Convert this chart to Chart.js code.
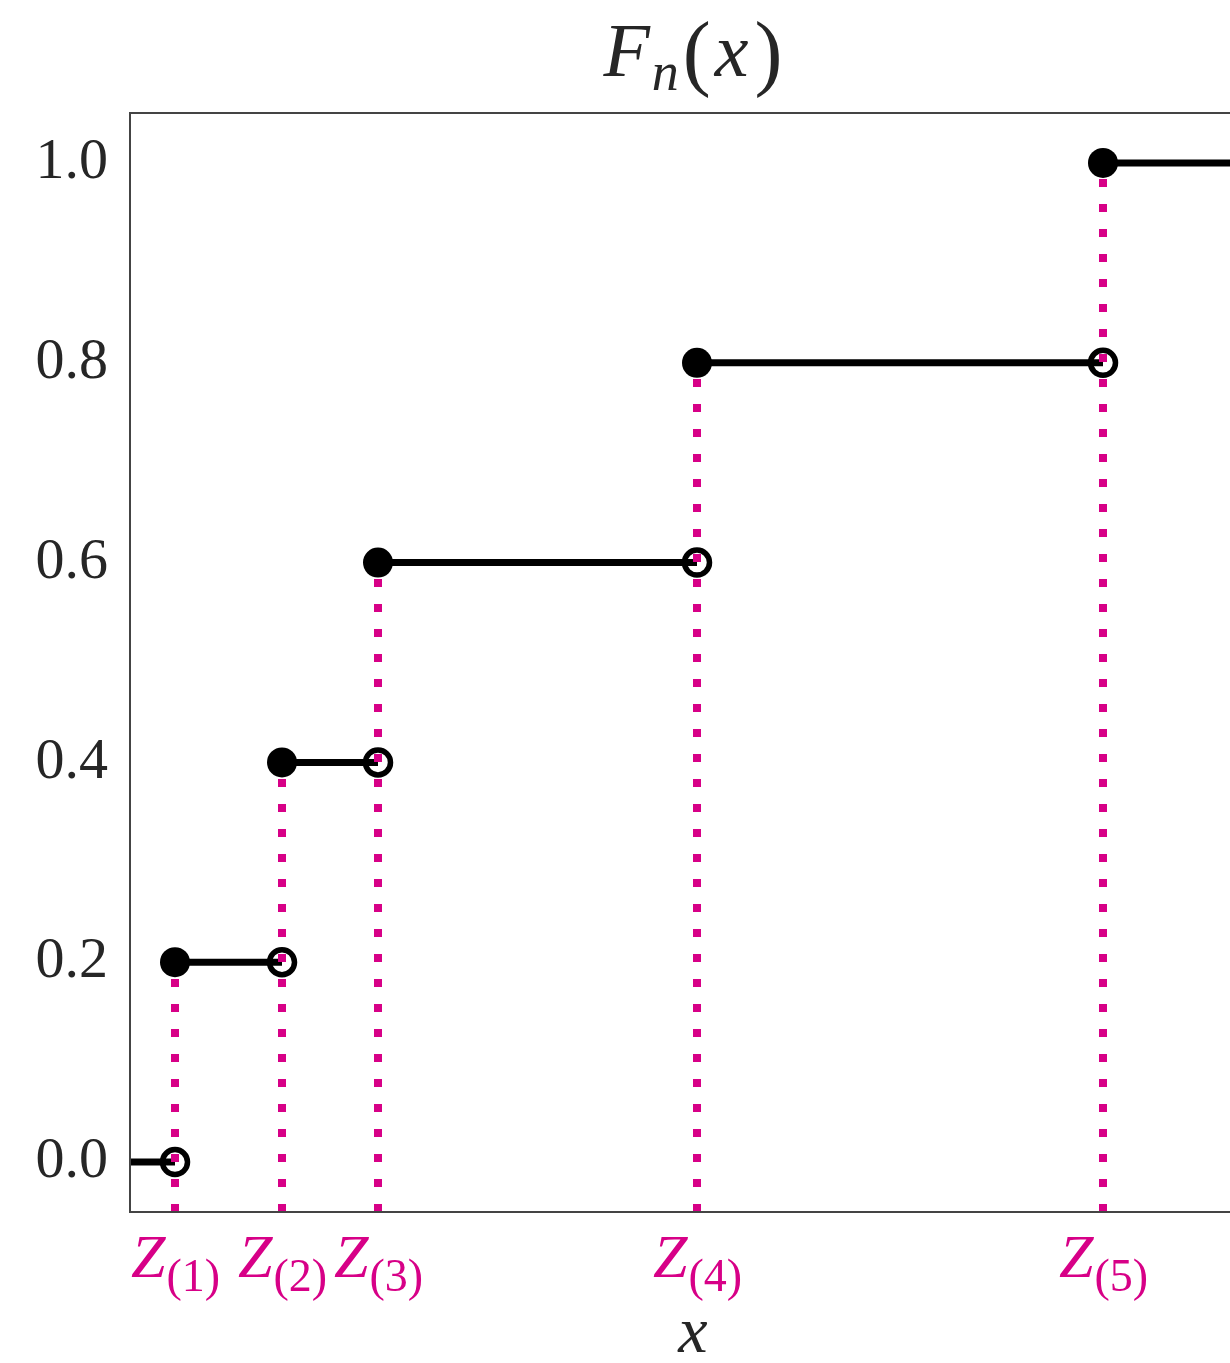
<!DOCTYPE html>
<html>
<head>
<meta charset="utf-8">
<script src="https://cdn.jsdelivr.net/npm/chart.js@4.4.1/dist/chart.umd.min.js"></script>
<style>
  html, body { margin: 0; padding: 0; background: #fff; overflow: hidden; }
  #wrap { width: 1290px; height: 1363px; }
</style>
</head>
<body>
<div id="wrap"><canvas id="ecdf" width="1290" height="1363"></canvas></div>
<script>
// order statistics Z_(1)..Z_(5) and the value of F_n reached at each one
const zValues = [0.45, 1.52, 2.48, 5.67, 9.73];
const fnValues = [0.2, 0.4, 0.6, 0.8, 1.0];
const zLabels = ['1', '2', '3', '4', '5'];
const yTicks = [0.0, 0.2, 0.4, 0.6, 0.8, 1.0];
const xMin = 0, xMax = 11.26;
const yMin = -0.05, yMax = 1.05;

const PINK = '#d70087';
const SERIF = '"Liberation Serif", "DejaVu Serif", serif';

// horizontal steps, broken with nulls
const steps = [{ x: xMin, y: 0 }, { x: zValues[0], y: 0 }, { x: zValues[0], y: null }];
zValues.forEach((z, i) => {
  const next = i + 1 < zValues.length ? zValues[i + 1] : xMax;
  steps.push({ x: z, y: fnValues[i] }, { x: next, y: fnValues[i] }, { x: next, y: null });
});

// dotted drops from the axis up to each jump
const drops = [];
zValues.forEach((z, i) => {
  drops.push({ x: z, y: yMin }, { x: z, y: fnValues[i] }, { x: z, y: null });
});

const filled = zValues.map((z, i) => ({ x: z, y: fnValues[i] }));
const open = zValues.map((z, i) => ({ x: z, y: i === 0 ? 0 : fnValues[i - 1] }));

const decor = {
  id: 'decor',
  afterDraw(chart) {
    const { ctx, chartArea: a, scales } = chart;
    ctx.save();
    // frame
    ctx.strokeStyle = '#444';
    ctx.lineWidth = 2;
    ctx.strokeRect(a.left, a.top, a.right - a.left, a.bottom - a.top);

    const cx = (a.left + a.right) / 2;

    // title F_n(x)
    ctx.fillStyle = '#262626';
    ctx.textBaseline = 'alphabetic';
    ctx.textAlign = 'left';
    const parts = [
      { t: 'F', f: 'italic 76px ' + SERIF, dy: 0, gap: 2 },
      { t: 'n', f: 'italic 54px ' + SERIF, dy: 14, gap: 4 },
      { t: '(', f: '84px ' + SERIF, dy: 4, gap: 4 },
      { t: 'x', f: 'italic 76px ' + SERIF, dy: 0, gap: 6 },
      { t: ')', f: '84px ' + SERIF, dy: 4, gap: 0 }
    ];
    let w = 0;
    parts.forEach(p => { ctx.font = p.f; p.w = ctx.measureText(p.t).width; w += p.w + p.gap; });
    let px = cx - w / 2;
    parts.forEach(p => { ctx.font = p.f; ctx.fillText(p.t, px, 76 + p.dy); px += p.w + p.gap; });

    // x tick labels Z_(i)
    ctx.fillStyle = PINK;
    zValues.forEach((z, i) => {
      const x = scales.x.getPixelForValue(z);
      ctx.font = 'italic 62px ' + SERIF;
      const zw = ctx.measureText('Z').width;
      ctx.font = '46px ' + SERIF;
      const sw = ctx.measureText('(' + zLabels[i] + ')').width;
      let sx = x - (zw + sw) / 2;
      ctx.font = 'italic 62px ' + SERIF;
      ctx.fillText('Z', sx, 1277);
      ctx.font = '46px ' + SERIF;
      ctx.fillText('(' + zLabels[i] + ')', sx + zw + 1, 1291);
    });

    // x axis label
    ctx.fillStyle = '#262626';
    ctx.font = 'italic 66px ' + SERIF;
    ctx.textAlign = 'center';
    ctx.fillText('x', cx, 1352);
    ctx.restore();
  }
};

new Chart(document.getElementById('ecdf'), {
  type: 'line',
  data: {
    datasets: [
      {
        data: filled, showLine: false, order: 0,
        pointRadius: 15, pointBackgroundColor: '#000', pointBorderColor: '#000', pointBorderWidth: 0
      },
      {
        data: open, showLine: false, order: 1,
        pointRadius: 12.5, pointBackgroundColor: 'rgba(0,0,0,0)', pointBorderColor: '#000', pointBorderWidth: 5.5
      },
      {
        data: drops, order: 2, spanGaps: false, pointRadius: 0,
        borderColor: PINK, borderWidth: 8, borderDash: [8, 17], borderCapStyle: 'butt'
      },
      {
        data: steps, order: 3, spanGaps: false, pointRadius: 0,
        borderColor: '#000', borderWidth: 7, borderCapStyle: 'butt'
      }
    ]
  },
  options: {
    responsive: false,
    animation: false,
    clip: false,
    layout: { padding: { top: 113, right: 34, bottom: 0, left: 0 } },
    plugins: { legend: { display: false }, tooltip: { enabled: false } },
    scales: {
      x: {
        type: 'linear', min: xMin, max: xMax,
        grid: { display: false, drawTicks: false },
        border: { display: false },
        ticks: { display: false },
        afterFit(s) { s.height = 151; }
      },
      y: {
        type: 'linear', min: yMin, max: yMax,
        grid: { display: false, drawTicks: false },
        border: { display: false },
        afterBuildTicks(s) { s.ticks = yTicks.map(v => ({ value: v })); },
        ticks: {
          padding: 22, color: '#262626',
          font: { family: SERIF, size: 58 },
          callback: v => v.toFixed(1)
        },
        afterFit(s) { s.width = 130; }
      }
    }
  },
  plugins: [decor]
});
</script>
</body>
</html>
